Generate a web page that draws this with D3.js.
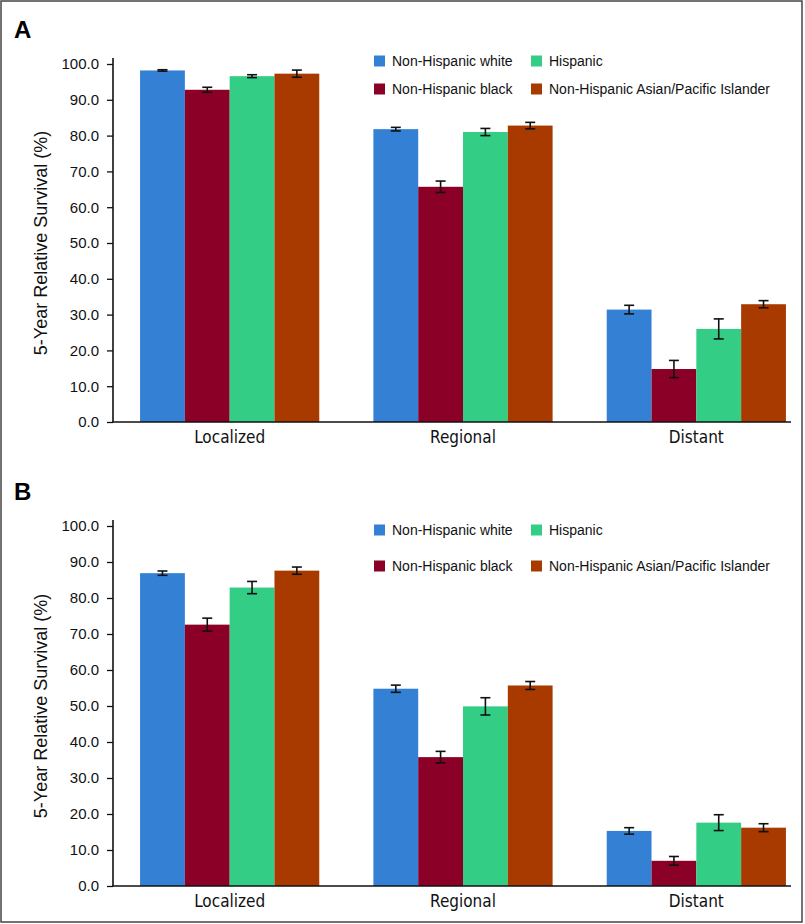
<!DOCTYPE html>
<html>
<head>
<meta charset="utf-8">
<script src="https://cdn.jsdelivr.net/npm/d3@7"></script>
<style>
  body { margin: 0; background: #fff; }
  svg { display: block; }
  .tick text { font-family: "Liberation Sans", Arial, sans-serif; font-size: 15px; fill: #111; }
  .cat { font-family: "DejaVu Sans Condensed", "Liberation Sans Narrow", Arial, sans-serif; font-stretch: condensed; font-size: 17px; fill: #111; }
  .leg { font-family: "Liberation Sans", Arial, sans-serif; font-size: 14px; fill: #111; }
</style>
</head>
<body>
<div id="chart"></div>
<script>
// categories and series
var stages = ["Localized", "Regional", "Distant"];
var groups = ["Non-Hispanic white", "Non-Hispanic black", "Hispanic", "Non-Hispanic Asian/Pacific Islander"];
var colors = ["#3480d5", "#8a0026", "#33cd86", "#a83a00"];
var yTicks = [0, 10, 20, 30, 40, 50, 60, 70, 80, 90, 100];

// Panel A: survival (%) per stage, in group order
var aLocalized = [98.2, 92.8, 96.6, 97.3];
var aRegional  = [81.8, 65.7, 81.0, 82.8];
var aDistant   = [31.4, 14.8, 26.0, 32.9];
// Panel A: half width of the error bar
var aLocalizedErr = [0.2, 0.7, 0.4, 1.0];
var aRegionalErr  = [0.5, 1.6, 1.0, 0.9];
var aDistantErr   = [1.2, 2.4, 2.8, 1.0];

// Panel B
var bLocalized = [86.9, 72.6, 82.9, 87.6];
var bRegional  = [54.8, 35.8, 49.9, 55.7];
var bDistant   = [15.3, 7.0, 17.6, 16.2];
var bLocalizedErr = [0.6, 1.8, 1.7, 1.0];
var bRegionalErr  = [1.0, 1.6, 2.4, 1.1];
var bDistantErr   = [0.9, 1.2, 2.2, 1.1];

var W = 805, H = 924;

var svg = d3.select("#chart").append("svg")
    .attr("width", W)
    .attr("height", H);

// frame around the figure
svg.append("rect")
    .attr("x", 1).attr("y", 1)
    .attr("width", 801).attr("height", 921)
    .attr("fill", "none")
    .attr("stroke", "#444")
    .attr("stroke-width", 1.5);

function drawPanel(opt) {
    var vals = [opt.loc, opt.reg, opt.dis];
    var errs = [opt.locErr, opt.regErr, opt.disErr];

    var x0 = d3.scaleBand().domain(stages)
        .range([113, 813])
        .paddingInner(0.232)
        .paddingOuter(0.116);
    var x1 = d3.scaleBand().domain(groups)
        .range([0, x0.bandwidth()]);
    var y = d3.scaleLinear().domain([0, 100]).range([opt.bottom, opt.top]);

    var g = svg.append("g");

    // panel letter
    g.append("text")
        .attr("x", 14)
        .attr("y", opt.letterY)
        .style("font-family", "'Liberation Sans', Arial, sans-serif")
        .style("font-weight", "bold")
        .style("font-size", "24px")
        .text(opt.letter);

    // y title
    g.append("text")
        .attr("transform", "translate(47," + ((opt.top + opt.bottom) / 2) + ")rotate(-90)")
        .attr("text-anchor", "middle")
        .style("font-family", "'Liberation Sans', Arial, sans-serif")
        .style("font-size", "18px")
        .style("fill", "#111")
        .text("5-Year Relative Survival (%)");

    // bars
    var sg = g.selectAll(".stage")
        .data(stages)
        .enter().append("g")
        .attr("transform", function(d) { return "translate(" + x0(d) + ",0)"; });

    sg.selectAll("rect")
        .data(function(d, i) { return groups.map(function(k, j) { return {k: k, v: vals[i][j], e: errs[i][j], c: colors[j]}; }); })
        .enter().append("rect")
        .attr("x", function(d) { return x1(d.k); })
        .attr("width", x1.bandwidth())
        .attr("y", function(d) { return y(d.v); })
        .attr("height", function(d) { return y(0) - y(d.v); })
        .attr("fill", function(d) { return d.c; });

    // error bars
    var eb = sg.selectAll(".err")
        .data(function(d, i) { return groups.map(function(k, j) { return {k: k, v: vals[i][j], e: errs[i][j]}; }); })
        .enter().append("g")
        .attr("class", "err")
        .attr("stroke", "#111")
        .attr("stroke-width", 1.6);
    var cx = function(d) { return x1(d.k) + x1.bandwidth() / 2; };
    eb.append("line")
        .attr("x1", cx).attr("x2", cx)
        .attr("y1", function(d) { return y(d.v + d.e); })
        .attr("y2", function(d) { return y(d.v - d.e); });
    eb.append("line")
        .attr("x1", function(d) { return cx(d) - 5; })
        .attr("x2", function(d) { return cx(d) + 5; })
        .attr("y1", function(d) { return y(d.v + d.e); })
        .attr("y2", function(d) { return y(d.v + d.e); });
    eb.append("line")
        .attr("x1", function(d) { return cx(d) - 5; })
        .attr("x2", function(d) { return cx(d) + 5; })
        .attr("y1", function(d) { return y(d.v - d.e); })
        .attr("y2", function(d) { return y(d.v - d.e); });

    // y axis
    var ya = g.append("g")
        .attr("transform", "translate(113,0)")
        .call(d3.axisLeft(y).tickValues(yTicks).tickFormat(d3.format(".1f")).tickSize(6).tickSizeOuter(0).tickPadding(8));
    ya.select(".domain").remove();
    ya.selectAll(".tick line").attr("stroke", "#111").attr("stroke-width", 1.3);
    g.append("line")
        .attr("x1", 113).attr("x2", 113)
        .attr("y1", y(100) - 6).attr("y2", y(0))
        .attr("stroke", "#111").attr("stroke-width", 1.6);

    // x axis
    g.append("line")
        .attr("x1", 112).attr("x2", 791)
        .attr("y1", y(0)).attr("y2", y(0))
        .attr("stroke", "#111").attr("stroke-width", 1.6);
    g.selectAll(".cat")
        .data(stages)
        .enter().append("text")
        .attr("class", "cat")
        .attr("x", function(d) { return x0(d) + x0.bandwidth() / 2; })
        .attr("y", y(0) + 21)
        .attr("text-anchor", "middle")
        .text(function(d) { return d; });

    // legend: two columns, two rows
    var legPos = [[374, opt.leg1], [374, opt.leg2], [531, opt.leg1], [531, opt.leg2]];
    var lg = g.selectAll(".legitem")
        .data(groups)
        .enter().append("g")
        .attr("transform", function(d, i) { return "translate(" + legPos[i][0] + "," + legPos[i][1] + ")"; });
    lg.append("rect")
        .attr("x", 0).attr("y", -5.5)
        .attr("width", 11).attr("height", 11)
        .attr("fill", function(d, i) { return colors[i]; });
    lg.append("text")
        .attr("class", "leg")
        .attr("x", 18)
        .attr("y", 5)
        .text(function(d) { return d; });
}

drawPanel({
    letter: "A", letterY: 38, top: 64, bottom: 422, leg1: 61, leg2: 89,
    loc: aLocalized, reg: aRegional, dis: aDistant,
    locErr: aLocalizedErr, regErr: aRegionalErr, disErr: aDistantErr
});
drawPanel({
    letter: "B", letterY: 500, top: 526, bottom: 886, leg1: 530, leg2: 566,
    loc: bLocalized, reg: bRegional, dis: bDistant,
    locErr: bLocalizedErr, regErr: bRegionalErr, disErr: bDistantErr
});
</script>
</body>
</html>
